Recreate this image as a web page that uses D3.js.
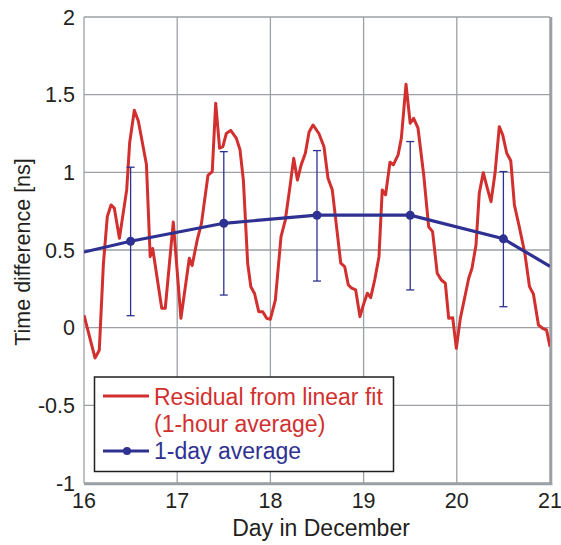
<!DOCTYPE html>
<html lang="en">
<head>
<meta charset="UTF-8">
<title></title>
<script src="https://d3js.org/d3.v7.min.js" charset="utf-8"></script>
<style>
  body { margin: 0; background: #fff; }
  text { font-family: "Liberation Sans", Arial, sans-serif; }
</style>
</head>
<body>
<script type="text/javascript">

var w = 561;
var h = 545;

// hourly residual
var residDays = [16.00, 16.118, 16.164, 16.208, 16.25, 16.29, 16.325, 16.38, 16.458, 16.49, 16.54, 16.583, 16.67, 16.71, 16.737, 16.834, 16.872, 16.958, 17.04,
  17.13, 17.16, 17.215, 17.26, 17.33, 17.376, 17.413, 17.455, 17.49, 17.527, 17.574, 17.634, 17.674, 17.71, 17.756, 17.79, 17.83, 17.875, 17.918, 17.96, 17.999,
  18.053, 18.114, 18.16, 18.21, 18.25, 18.29, 18.33, 18.375, 18.415, 18.457, 18.52, 18.575, 18.618, 18.664, 18.755, 18.797, 18.836, 18.872, 18.915, 18.961, 18.997,
  19.04, 19.076, 19.119, 19.165, 19.2, 19.236, 19.283, 19.319, 19.37, 19.405, 19.455, 19.5, 19.537, 19.584, 19.645, 19.698, 19.74, 19.79, 19.834, 19.877, 19.913, 19.956, 19.995,
  20.038, 20.128, 20.163, 20.206, 20.241, 20.284, 20.327, 20.367, 20.41, 20.456, 20.493, 20.536, 20.579, 20.618, 20.67, 20.73, 20.78, 20.822, 20.876, 20.92, 20.963, 21.0];
var residValues = [0.08, -0.195, -0.145, 0.41, 0.715, 0.79, 0.77, 0.575, 0.887, 1.19, 1.40, 1.33, 1.05, 0.457, 0.51, 0.125, 0.125, 0.68, 0.06,
  0.447, 0.40, 0.565, 0.67, 0.98, 1.005, 1.445, 1.155, 1.165, 1.25, 1.27, 1.22, 1.145, 0.95, 0.415, 0.264, 0.22, 0.103, 0.103, 0.06, 0.054,
  0.178, 0.586, 0.693, 0.908, 1.09, 0.95, 1.048, 1.123, 1.26, 1.305, 1.25, 1.165, 0.962, 0.887, 0.415, 0.393, 0.275, 0.254, 0.243, 0.071, 0.146,
  0.222, 0.193, 0.307, 0.457, 0.887, 0.855, 1.065, 1.048, 1.112, 1.22, 1.567, 1.316, 1.348, 1.284, 0.983, 0.65, 0.618, 0.35, 0.307, 0.286, 0.06, 0.064, -0.133,
  0.06, 0.318, 0.382, 0.532, 0.865, 0.998, 0.898, 0.811, 0.994, 1.294, 1.24, 1.123, 1.075, 0.79, 0.65, 0.479, 0.264, 0.217, 0.017, -0.004, -0.015, -0.122];

// 1-day average
var lineDays = [16, 16.5, 17.5, 18.5, 19.5, 20.5, 21];
var lineValues = [0.487, 0.556, 0.672, 0.724, 0.724, 0.572, 0.395];
var avgDays = [16.5, 17.5, 18.5, 19.5, 20.5];
var avgValues = [0.556, 0.672, 0.724, 0.724, 0.572];
var errHigh = [1.033, 1.133, 1.14, 1.198, 1.005];
var errLow = [0.077, 0.21, 0.30, 0.243, 0.135];

var xTicks = [16, 17, 18, 19, 20, 21];
var yTicks = [-1, -0.5, 0, 0.5, 1, 1.5, 2];

var red = "#d2302f";
var blue = "#2e3192";
var grid = "#9ca0a5";

var x = d3.scaleLinear().domain([16, 21]).range([84, 550]);
var y = d3.scaleLinear().domain([-1, 2]).range([483, 17]);

var svg = d3.select("body").append("svg")
    .attr("width", w)
    .attr("height", h);

svg.append("defs").append("clipPath").attr("id", "plot")
  .append("rect").attr("x", 84).attr("y", 17).attr("width", 466).attr("height", 466);

// grid
svg.append("g").selectAll("line").data(yTicks).enter().append("line")
    .attr("x1", 84).attr("x2", 550)
    .attr("y1", function(d) { return y(d); }).attr("y2", function(d) { return y(d); })
    .attr("stroke", grid).attr("stroke-width", 1.3);
svg.append("g").selectAll("line").data(xTicks).enter().append("line")
    .attr("x1", function(d) { return x(d); }).attr("x2", function(d) { return x(d); })
    .attr("y1", 17).attr("y2", 483)
    .attr("stroke", grid).attr("stroke-width", 1.3);
// thicker right/bottom frame
svg.append("line").attr("x1", 551).attr("x2", 551).attr("y1", 17).attr("y2", 484.5)
    .attr("stroke", grid).attr("stroke-width", 2.6);
svg.append("line").attr("x1", 84).attr("x2", 552.3).attr("y1", 484).attr("y2", 484)
    .attr("stroke", grid).attr("stroke-width", 2.6);

// tick labels
svg.append("g").selectAll("text").data(yTicks).enter().append("text")
    .attr("x", 75).attr("y", function(d) { return y(d) + 7.5; })
    .attr("text-anchor", "end")
    .attr("font-size", "21.5px").attr("fill", "#231f20")
    .text(function(d) { return d; });
svg.append("g").selectAll("text").data(xTicks).enter().append("text")
    .attr("x", function(d) { return x(d); }).attr("y", 508)
    .attr("text-anchor", "middle")
    .attr("font-size", "21.5px").attr("fill", "#231f20")
    .text(function(d) { return d; });

svg.append("text").attr("x", 321).attr("y", 536)
    .attr("text-anchor", "middle").attr("font-size", "23px").attr("fill", "#231f20")
    .text("Day in December");
svg.append("text").attr("transform", "translate(30,252) rotate(-90)")
    .attr("text-anchor", "middle").attr("font-size", "21.5px").attr("fill", "#231f20")
    .text("Time difference [ns]");

var plot = svg.append("g").attr("clip-path", "url(#plot)");

// residual line
var resid = residDays.map(function(d, i) { return [d, residValues[i]]; });
plot.append("path").datum(resid)
    .attr("fill", "none").attr("stroke", red).attr("stroke-width", 3)
    .attr("stroke-linejoin", "round")
    .attr("d", d3.line().x(function(d) { return x(d[0]); }).y(function(d) { return y(d[1]); }));

// error bars
var bars = plot.append("g").selectAll("g").data(avgDays).enter().append("g");
bars.append("line")
    .attr("x1", function(d) { return x(d); }).attr("x2", function(d) { return x(d); })
    .attr("y1", function(d, i) { return y(errHigh[i]); }).attr("y2", function(d, i) { return y(errLow[i]); })
    .attr("stroke", blue).attr("stroke-width", 1.3);
bars.append("line")
    .attr("x1", function(d) { return x(d) - 4; }).attr("x2", function(d) { return x(d) + 4; })
    .attr("y1", function(d, i) { return y(errHigh[i]); }).attr("y2", function(d, i) { return y(errHigh[i]); })
    .attr("stroke", blue).attr("stroke-width", 1.3);
bars.append("line")
    .attr("x1", function(d) { return x(d) - 4; }).attr("x2", function(d) { return x(d) + 4; })
    .attr("y1", function(d, i) { return y(errLow[i]); }).attr("y2", function(d, i) { return y(errLow[i]); })
    .attr("stroke", blue).attr("stroke-width", 1.3);

// 1-day average line
var avgLine = lineDays.map(function(d, i) { return [d, lineValues[i]]; });
plot.append("path").datum(avgLine)
    .attr("fill", "none").attr("stroke", blue).attr("stroke-width", 3.2)
    .attr("d", d3.line().x(function(d) { return x(d[0]); }).y(function(d) { return y(d[1]); }));
plot.append("g").selectAll("circle").data(avgDays).enter().append("circle")
    .attr("cx", function(d) { return x(d); })
    .attr("cy", function(d, i) { return y(avgValues[i]); })
    .attr("r", 4.5).attr("fill", blue);

// legend
var leg = svg.append("g");
leg.append("rect").attr("x", 94.5).attr("y", 377).attr("width", 299).attr("height", 94.5)
    .attr("fill", "#fff").attr("stroke", "#231f20").attr("stroke-width", 1.5);
leg.append("line").attr("x1", 103).attr("x2", 149).attr("y1", 396).attr("y2", 396)
    .attr("stroke", red).attr("stroke-width", 3);
leg.append("text").attr("x", 154).attr("y", 405).attr("font-size", "23px").attr("fill", red)
    .text("Residual from linear fit");
leg.append("text").attr("x", 154).attr("y", 432).attr("font-size", "23px").attr("fill", red)
    .text("(1-hour average)");
leg.append("line").attr("x1", 103).attr("x2", 149).attr("y1", 451).attr("y2", 451)
    .attr("stroke", blue).attr("stroke-width", 3);
leg.append("circle").attr("cx", 127).attr("cy", 451).attr("r", 4).attr("fill", blue);
leg.append("text").attr("x", 154).attr("y", 459).attr("font-size", "23px").attr("fill", blue)
    .text("1-day average");

</script>
</body>
</html>
